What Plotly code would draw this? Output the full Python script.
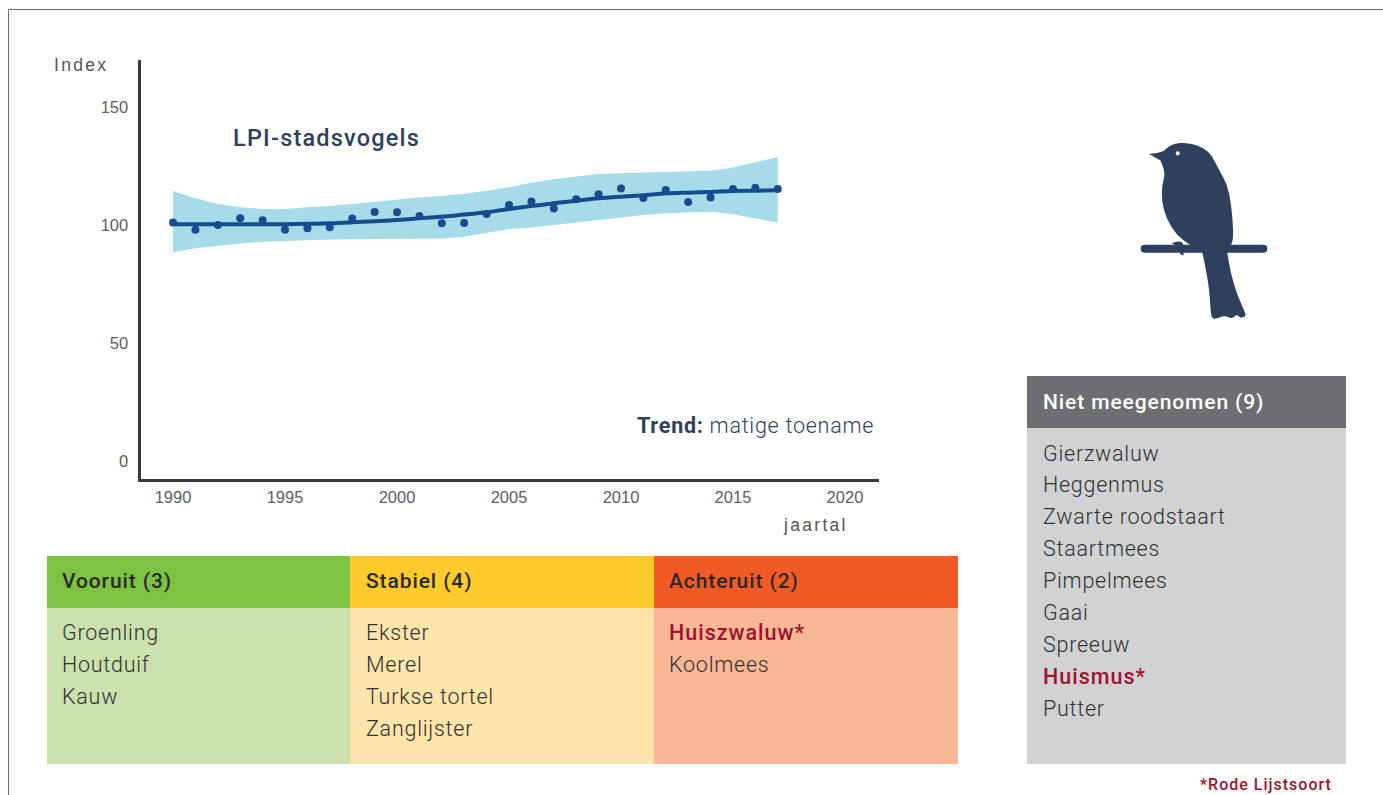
import plotly.graph_objects as go

W, H = 1383, 795

years = list(range(1990, 2018))
index_points = [101, 98, 100, 102.8, 102, 98, 98.6, 99, 102.7, 105.5, 105.4, 103.8, 100.7, 100.8,
                104.7, 108.5, 110, 107, 110.9, 113, 115.5, 111.4, 114.8, 109.7, 111.6, 115.2, 115.8, 115.2]
trend = [100.3, 100.3, 100.3, 100.3, 100.3, 100.3, 100.5, 100.7, 101.2, 101.6, 102.1, 102.8, 103.5, 104.4,
         105.4, 106.8, 108, 109.2, 110.3, 111.3, 112, 112.6, 113.4, 113.7, 114, 114.4, 114.5, 114.7]
upper = [114.4, 111.3, 108.9, 107.5, 106.8, 106.8, 107.5, 108, 108.9, 109.9, 110.9, 111.6, 112.3, 113.2,
         114.5, 116, 117.9, 119.4, 120.5, 121.6, 121.9, 122.2, 122.7, 123, 123, 124.4, 126.4, 128.7]
lower = [88.4, 90.1, 91.2, 92.2, 92.9, 93.5, 93.6, 93.9, 94, 94, 94.2, 94.3, 94.3, 95,
         96.5, 98.3, 98.9, 100, 101, 102.1, 103.3, 104.2, 105, 105.4, 105.6, 104.5, 102.8, 101]
x_ticks = [1990, 1995, 2000, 2005, 2010, 2015, 2020]
y_ticks = [0, 50, 100, 150]

vooruit = ["Groenling", "Houtduif", "Kauw"]
stabiel = ["Ekster", "Merel", "Turkse tortel", "Zanglijster"]
achteruit = ["Huiszwaluw*", "Koolmees"]
niet_meegenomen = ["Gierzwaluw", "Heggenmus", "Zwarte roodstaart", "Staartmees", "Pimpelmees",
                   "Gaai", "Spreeuw", "Huismus*", "Putter"]

NAVY = "#2F405C"
RED = "#A0112E"
DIN = "Roboto"
BODY_TEXT = "#303030"


def px(x):
    return x / W


def py(y):
    return 1 - y / H


shapes = []
annotations = []


def rect(x0, y0, x1, y1, color):
    shapes.append(dict(type="rect", xref="paper", yref="paper", x0=px(x0), x1=px(x1), y0=py(y1), y1=py(y0),
                       fillcolor=color, line=dict(width=0), layer="below"))


def text(x, y, s, size=21.5, color=BODY_TEXT, family=DIN, anchor="left", weight=300):
    xx = x - 2.5 if anchor == "left" else x + 2.5
    annotations.append(dict(xref="paper", yref="paper", x=px(xx), y=py(y), text=s, showarrow=False,
                            xanchor=anchor, yanchor="middle", align=anchor,
                            font=dict(size=size, color=color, family=family, weight=weight)))


def smooth(points, color):
    """Closed outline through the midpoints of the listed icon points (zoom-crop pixels)."""
    pts = [(1120 + a / 3, 130 + b / 3) for a, b in points]
    n = len(pts)
    mid = lambda p, q: ((p[0] + q[0]) / 2, (p[1] + q[1]) / 2)
    s = mid(pts[-1], pts[0])
    d = f"M{px(s[0]):.5f},{py(s[1]):.5f}"
    for i in range(n):
        c = pts[i]
        e = mid(c, pts[(i + 1) % n])
        d += f" Q{px(c[0]):.5f},{py(c[1]):.5f} {px(e[0]):.5f},{py(e[1]):.5f}"
    shapes.append(dict(type="path", xref="paper", yref="paper", path=d + " Z", fillcolor=color, line=dict(width=0)))


# page frame
shapes.append(dict(type="line", xref="paper", yref="paper", x0=px(8.5), x1=px(8.5), y0=py(9.5), y1=0,
                   line=dict(color="#5B6B88", width=1)))
shapes.append(dict(type="line", xref="paper", yref="paper", x0=px(8.5), x1=1, y0=py(9.5), y1=py(9.5),
                   line=dict(color="#5B6B88", width=1)))

# status panels
panels = [
    (47, 350, "#7EC242", "#CBE2AE", "Vooruit (3)", vooruit),
    (350, 654, "#FFCB2C", "#FEE5AB", "Stabiel (4)", stabiel),
    (654, 958, "#F15A24", "#F9B795", "Achteruit (2)", achteruit),
]
for x0, x1, head, body, title, names in panels:
    tx = 366 if x0 == 350 else x0 + 15.5
    rect(x0, 556, x1, 608, head)
    rect(x0, 608, x1, 764, body)
    text(tx, 581, title, 21, "#2A2A28", weight=500)
    for i, name in enumerate(names):
        red = name.endswith("*")
        text(tx, 632 + 32 * i, name, 21.5, RED if red else BODY_TEXT, weight=500 if red else 300)

rect(1027, 376, 1346, 428, "#6D6E71")
rect(1027, 428, 1346, 764, "#D1D2D4")
text(1043, 402, "Niet meegenomen (9)", 21, "#FFFFFF", weight=500)
for i, name in enumerate(niet_meegenomen):
    red = name.endswith("*")
    text(1043, 453 + 31.9 * i, name, 21.5, RED if red else BODY_TEXT, weight=500 if red else 300)
text(1331, 784, "*Rode Lijstsoort", 16, RED, anchor="right", weight=500)

# chart labels
text(233, 138, "LPI-stadsvogels", 23.5, NAVY, weight=500)
text(637, 425, "<b>Trend:</b> matige toename", 21.5, NAVY)
text(54, 65, "Index", 17.5, "#555555", "Liberation Sans", weight=400)
text(784, 525, "jaartal", 17.5, "#555555", "Liberation Sans", weight=400)

# bird icon (silhouette and perch)
body_outline = [(87, 72), (87, 72), (128, 67), (142, 52), (165, 40), (195, 38), (235, 46), (268, 66), (282, 90),
                (300, 125), (322, 165), (332, 215), (338, 270), (340, 322), (334, 345), (322, 368), (322, 368),
                (332, 430), (352, 495), (377, 552), (377, 558), (362, 566), (350, 552), (338, 566), (322, 560),
                (308, 558), (292, 566), (276, 566), (272, 545), (268, 480), (258, 420), (247, 368), (247, 368),
                (205, 342), (170, 315), (140, 268), (125, 215), (126, 165), (136, 130), (122, 92), (122, 92)]
smooth(body_outline, NAVY)
foot = [(155, 340), (155, 340), (178, 332), (192, 342), (186, 360), (194, 378), (178, 372), (176, 350)]
smooth(foot, NAVY)
y0p, y1p = py(130 + 344 / 3), py(130 + 368 / 3)
xa, xb = px(1120 + 62 / 3), px(1120 + 442 / 3)
rx = px(4)
ymid = (y0p + y1p) / 2
shapes.append(dict(type="path", xref="paper", yref="paper", fillcolor=NAVY, line=dict(width=0),
                   path=f"M{xa + rx:.5f},{y0p:.5f} L{xb - rx:.5f},{y0p:.5f} Q{xb:.5f},{y0p:.5f} {xb:.5f},{ymid:.5f} "
                        f"Q{xb:.5f},{y1p:.5f} {xb - rx:.5f},{y1p:.5f} L{xa + rx:.5f},{y1p:.5f} "
                        f"Q{xa:.5f},{y1p:.5f} {xa:.5f},{ymid:.5f} Q{xa:.5f},{y0p:.5f} {xa + rx:.5f},{y0p:.5f} Z"))
shapes.append(dict(type="circle", xref="paper", yref="paper", x0=px(1175.6), x1=px(1179.8), y0=py(155.4), y1=py(151.2),
                   fillcolor="#FFFFFF", line=dict(width=0)))

fig = go.Figure()
fig.add_trace(go.Scatter(x=years + years[::-1], y=upper + lower[::-1], fill="toself", fillcolor="#A6DBEA",
                         mode="lines", line=dict(width=0, shape="linear"), hoverinfo="skip"))
fig.add_trace(go.Scatter(x=years, y=index_points, mode="markers", marker=dict(size=8, color="#1C4A8C")))
fig.add_trace(go.Scatter(x=years, y=trend, mode="lines", line=dict(color="#1A4A8E", width=4, shape="spline", smoothing=0.8)))

tick_font = dict(family="Liberation Sans", size=16.5, color="#5E5E5E")
fig.update_layout(
    width=W, height=H, autosize=False, margin=dict(l=0, r=0, t=0, b=0),
    paper_bgcolor="#FFFFFF", plot_bgcolor="#FFFFFF", showlegend=False,
    shapes=shapes, annotations=annotations,
    xaxis=dict(domain=[px(141.25), px(879)], range=[1988.58, 2021.52], tickvals=x_ticks, showgrid=False, zeroline=False,
               showline=True, linecolor="#3A3A3A", linewidth=2.5, ticks="", tickfont=tick_font, ticklabelstandoff=2),
    yaxis=dict(domain=[py(478.75), py(60)], range=[-7.52, 169.9], tickvals=y_ticks, showgrid=False, zeroline=False,
               showline=True, linecolor="#3A3A3A", linewidth=2.5, ticks="", tickfont=tick_font, ticklabelstandoff=7),
)

post = """
document.body.style.margin='0';
document.body.style.overflow='hidden';
var st=document.createElement('style');
st.textContent='.annotation-text{letter-spacing:.75px}'
 +'.annotation-text[data-unformatted*="("]{letter-spacing:.9px}'
 +'.annotation-text[data-unformatted*="*"]{letter-spacing:1px}'
 +'.annotation-text[data-unformatted^="LPI"]{letter-spacing:1.2px}'
 +'.annotation-text[data-unformatted="Index"],.annotation-text[data-unformatted="jaartal"]{letter-spacing:2.3px}';
document.head.appendChild(st);
"""
fig.write_html("out.html", post_script=post, config=dict(displayModeBar=False))
